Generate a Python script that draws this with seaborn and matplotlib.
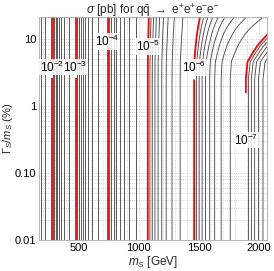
import numpy as np
import matplotlib
matplotlib.use("Agg")
import matplotlib.pyplot as plt
import seaborn as sns

# ---- data ----
# log10(sigma/pb) at narrow width along mass nodes (decade contours)
mass_nodes = [175, 280, 475, 740, 1075, 1460, 1890, 2070]
logsig_narrow = [-1.45, -2.0, -3.0, -4.0, -5.0, -6.0, -7.0, -7.38]
# extra log10 enhancement at Gamma/m = 20 %, per mass node
mass_enh_nodes = [175, 1000, 1075, 1460, 1700, 1890, 2070]
enh_at_20 = [0.0, 0.0, 0.02, 0.07, 0.27, 0.47, 0.62]
# width shape of the enhancement (Gamma/m in %)
width_nodes = [0.01, 2.5, 4.5, 8.0, 13.6, 20.0]
width_shape = [0.0, 0.0, 0.06, 0.38, 0.72, 1.0]
# label placement (Gamma/m in %) for the decade contours 1e-2 ... 1e-7
label_exps = [-7, -6, -5, -4, -3, -2]
label_mass = [1890, 1460, 1075, 740, 475, 280]
label_width = [0.31, 3.7, 7.6, 9.0, 3.8, 3.8]

x_ticks = [500, 1000, 1500, 2000]
y_ticks = [0.01, 0.1, 1, 10]
y_ticklabels = ["0.01", "0.10", "1", "10"]

# ---- figure ----
sns.set_theme(style="white")
plt.rcParams["font.family"] = ["Liberation Sans", "DejaVu Sans"]
plt.rcParams["mathtext.fontset"] = "custom"
plt.rcParams["mathtext.rm"] = "Liberation Sans"
plt.rcParams["mathtext.it"] = "Liberation Sans:italic"
plt.rcParams["mathtext.bf"] = "Liberation Sans:bold"
plt.rcParams["contour.negative_linestyle"] = "solid"

fig = plt.figure(figsize=(2.74, 2.71), dpi=100)
ax = fig.add_axes([0.142, 0.114, 0.832, 0.823])

m = np.linspace(170, 2070, 500)
lw_ = np.linspace(np.log10(0.01), np.log10(21), 300)
M, LW = np.meshgrid(m, lw_)
f = np.interp(M, mass_nodes, logsig_narrow)
h = np.interp(M, mass_enh_nodes, enh_at_20)
b = np.interp(LW, np.log10(width_nodes), width_shape)
Z = f + h * b
W = 10 ** LW

levels_all = []
for n in range(9, 0, -1):
    for k in range(1, 10):
        levels_all.append(np.log10(k * 10.0 ** (-n)))
levels_all = sorted(levels_all)
grey_levels = [l for l in levels_all if abs(l - round(l)) > 1e-9]
red_lab = [float(e) for e in sorted(label_exps)]
red_other = [float(e) for e in range(-9, 0) if e not in label_exps]

ax.contour(M, W, Z, levels=grey_levels, colors="#404040", linewidths=0.6,
           linestyles="solid")
ax.contour(M, W, Z, levels=red_other, colors="#ff0000", linewidths=1.3,
           linestyles="solid")
cr = ax.contour(M, W, Z, levels=red_lab, colors="#ff0000", linewidths=1.3,
                linestyles="solid")

fmt = {lv: r"$10^{%d}$" % int(lv) for lv in red_lab}
manual = [(mm, ww) for mm, ww in zip(label_mass, label_width)]
texts = ax.clabel(cr, fmt=fmt, manual=manual, inline=True, fontsize=8.5,
                  colors="black", inline_spacing=1)
for t in texts:
    t.set_rotation(0)
    t.set_bbox(dict(facecolor="white", edgecolor="none", alpha=0.85, pad=0.5))

ax.set_yscale("log")
ax.set_xlim(170, 2065)
ax.set_ylim(0.01, 21)
ax.set_xticks(x_ticks)
ax.set_xticklabels([str(v) for v in x_ticks])
ax.set_yticks(y_ticks)
ax.set_yticklabels(y_ticklabels)
ax.set_xticks(np.arange(200, 2065, 100), minor=True)
ax.tick_params(which="both", direction="in", labelsize=8, colors="#555555",
               labelcolor="black", length=2, pad=2)
ax.tick_params(which="minor", length=1)
ax.grid(True, which="both", color="#c8c8c8", linestyle=":", linewidth=0.6)
ax.set_axisbelow(True)
for s in ax.spines.values():
    s.set_color("#aaaaaa")
    s.set_linewidth(0.6)

ax.set_xlabel(r"$m_S$ [GeV]", fontsize=8.5, labelpad=1)
ax.set_ylabel(r"$\Gamma_S/m_S$ (%)", fontsize=8)
ax.yaxis.set_label_coords(-0.105, 0.5)
ax.set_title(r"$\sigma$ [pb] for q$\mathrm{\bar{q}}$ $\rightarrow$ e$^{+}$e$^{+}$e$^{-}$e$^{-}$",
             fontsize=8.5, pad=2)

fig.savefig("out.png", dpi=100)
